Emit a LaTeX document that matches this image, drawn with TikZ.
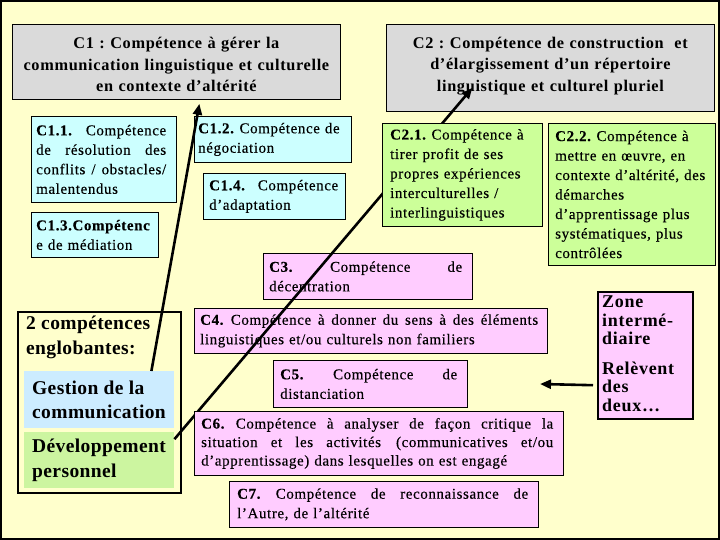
\documentclass[tikz,border=0pt]{standalone}
\usepackage{fontspec}
\setmainfont{Liberation Serif}
\newfontfamily\bodyf[LetterSpace=4,FakeBold=0.3]{Liberation Serif}
\newfontfamily\titlef[LetterSpace=4]{Liberation Serif}
\newfontfamily\bigf[LetterSpace=2]{Liberation Serif}
\usetikzlibrary{arrows.meta}
\definecolor{bgy}{HTML}{FFFFCC}
\definecolor{grayc}{HTML}{DADADA}
\definecolor{cyanc}{HTML}{CCFFFF}
\definecolor{greenc}{HTML}{CCFF99}
\definecolor{pinkc}{HTML}{FFCCFF}
\definecolor{gestc}{HTML}{CCECFF}
\definecolor{devc}{HTML}{CCF5A0}
\newcommand\jl[1]{\makebox[\hsize][s]{\spaceskip=0.25em plus 1fil\xspaceskip=0.25em plus 1fil\relax #1}}
\tikzset{
  cb/.style={draw=black, line width=0.8pt, anchor=north west, inner sep=0pt},
  ct/.style={anchor=west, inner sep=0pt, align=left, font=\bodyf\fontsize{15}{19.5}\selectfont\frenchspacing},
  tt/.style={inner sep=0pt, align=center, font=\titlef\fontsize{16.3}{21.5}\selectfont\bfseries\frenchspacing},
  big/.style={anchor=north west, inner sep=0pt, align=left, font=\bigf\fontsize{19.5}{24.5}\selectfont\bfseries},
  arr/.style={line width=2.6pt, -{Triangle[width=9pt,length=11pt]}}
}
\begin{document}
\begin{tikzpicture}[x=1pt,y=-1pt]
\useasboundingbox (0,0) rectangle (720,540);
\draw[fill=bgy, line width=2pt] (1,1) rectangle (719,539);

% top titles
\node[cb, fill=grayc, minimum width=328pt, minimum height=75pt] (c1) at (12,24) {};
\node[tt, text width=326pt] (c1t) at ([yshift=-3pt]c1.center) {C1 : Compétence à gérer la\\ communication linguistique et culturelle\\ en contexte d’altérité};
\node[cb, fill=grayc, minimum width=328pt, minimum height=87pt] (c2) at (386,24) {};
\node[tt, text width=326pt] (c2t) at ([yshift=2pt]c2.center) {C2 : Compétence de construction~ et\\ d’élargissement d’un répertoire\\ linguistique et culturel pluriel};

% C1.x boxes
\node[cb, fill=cyanc, minimum width=145pt, minimum height=86pt] (c11) at (31,116) {};
\node[ct, text width=130pt] (c11t) at ([xshift=5pt]c11.west) {\jl{\textbf{C1.1.} Compétence}\\ \jl{de résolution des}\\ \jl{conflits / obstacles/}\\ malentendus};
\node[cb, fill=cyanc, minimum width=157pt, minimum height=46pt] (c12) at (194,116) {};
\node[ct, text width=150pt] (c12t) at ([xshift=4pt]c12.west) {\textbf{C1.2.} Compétence de\\ négociation};
\node[cb, fill=cyanc, minimum width=142pt, minimum height=46pt] (c14) at (203,173) {};
\node[ct, text width=129pt] (c14t) at ([xshift=6pt]c14.west) {\jl{\textbf{C1.4.} Compétence}\\ d’adaptation};
\node[cb, fill=cyanc, minimum width=127pt, minimum height=45pt] (c13) at (31,212) {};
\node[ct, text width=120pt] (c13t) at ([xshift=5pt]c13.west) {\textbf{C1.3.Compétenc}\\ e de médiation};

% pink boxes under line B
\node[cb, fill=pinkc, minimum width=209pt, minimum height=46pt] (c3) at (263,253) {};
\node[ct, text width=193pt] (c3t) at ([xshift=6pt]c3.west) {\jl{\textbf{C3.} Compétence de}\\ décentration};
\node[cb, fill=pinkc, minimum width=353pt, minimum height=45pt] (c4) at (194,308) {};
\node[ct, text width=338pt] (c4t) at ([xshift=6pt]c4.west) {\jl{\textbf{C4.} Compétence à donner du sens à des éléments}\\ linguistiques et/ou culturels non familiers};

% englobantes
\node[cb, line width=2pt, minimum width=163pt, minimum height=181pt] (eng) at (17,311) {};
\node[big] (engt) at (26,316) {2 compétences\\ englobantes:};
\node[anchor=north west, inner sep=0pt, fill=gestc, minimum width=150pt, minimum height=57pt] (gest) at (24,371) {};
\node[big, anchor=west] (gestt) at ([xshift=8pt]gest.west) {Gestion de la\\ communication};
\node[anchor=north west, inner sep=0pt, fill=devc, minimum width=150pt, minimum height=56pt] (dev) at (24,432) {};
\node[big, anchor=west] (devt) at ([xshift=8pt]dev.west) {Développement\\ personnel};

% connectors
\draw[arr] ([xshift=-23pt]gest.north east) -- ([xshift=23pt,yshift=-4pt]c1.south);
\draw[arr] ([yshift=21pt]dev.east) -- ([xshift=-78pt,yshift=24pt]c2.south);

% C2.x boxes (over line B)
\node[cb, fill=greenc, minimum width=160pt, minimum height=103pt] (c21) at (382,123) {};
\node[ct, text width=150pt] (c21t) at ([xshift=8pt]c21.west) {\textbf{C2.1.} Compétence à\\ tirer profit de ses\\ propres expériences\\ interculturelles /\\ interlinguistiques};
\node[cb, fill=greenc, minimum width=167pt, minimum height=142pt] (c22) at (548,123) {};
\node[ct, text width=158pt] (c22t) at ([xshift=7pt]c22.west) {\textbf{C2.2.} Compétence à\\ mettre en œuvre, en\\ contexte d’altérité, des\\ démarches\\ d’apprentissage plus\\ systématiques, plus\\ contrôlées};

% other pink boxes
\node[cb, fill=pinkc, minimum width=194pt, minimum height=47pt] (c5) at (273,360) {};
\node[ct, text width=177pt] (c5t) at ([xshift=7pt]c5.west) {\jl{\textbf{C5.} Compétence de}\\ distanciation};
\node[cb, fill=pinkc, minimum width=369pt, minimum height=64pt] (c6) at (194,411) {};
\node[ct, text width=352pt, font=\bodyf\fontsize{15}{18.5}\selectfont\frenchspacing] (c6t) at ([xshift=7pt]c6.west) {\jl{\textbf{C6.} Compétence à analyser de façon critique la}\\ \jl{situation et les activités\hspace{1em}(communicatives et/ou}\\ d’apprentissage) dans lesquelles on est engagé};
\node[cb, fill=pinkc, minimum width=309pt, minimum height=46pt] (c7) at (229,481) {};
\node[ct, text width=291pt] (c7t) at ([xshift=8pt]c7.west) {\jl{\textbf{C7.} Compétence de reconnaissance de}\\ l’Autre, de l’altérité};

% zone
\node[cb, fill=pinkc, line width=2.4pt, minimum width=95pt, minimum height=127pt] (zone) at (597,291) {};
\node[anchor=north west, inner sep=0pt, align=left, font=\titlef\fontsize{18}{18.5}\selectfont\bfseries] (zonet) at (602,296) {Zone\\ intermé-\\ diaire\\[11pt] Relèvent\\ des\\ deux…};
\coordinate (zarr) at (540,384);
\draw[arr] ([xshift=-4pt,yshift=-29.5pt]zone.west) -- (zarr);
\end{tikzpicture}
\end{document}
